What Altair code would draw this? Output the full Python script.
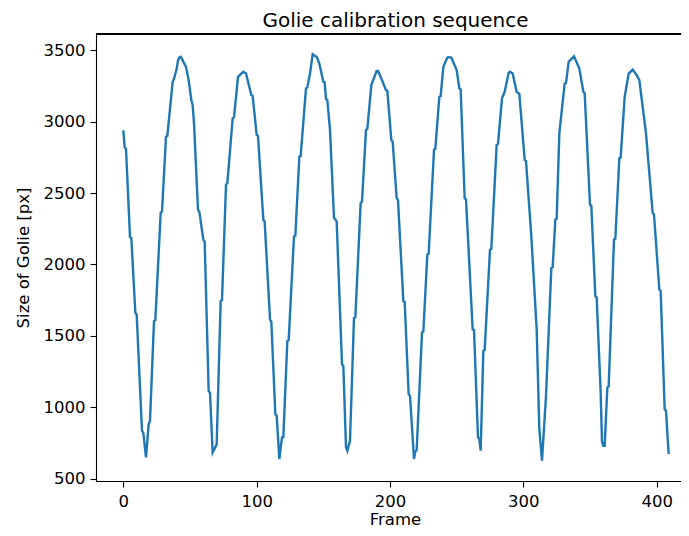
import altair as alt
import pandas as pd

frames = [0, 1, 2, 5, 6, 9, 10, 14, 15, 17, 19, 20, 23, 24, 28, 29, 32, 33, 37, 38,
          40, 41, 42, 43, 44, 45, 47, 49, 51, 52, 53, 56, 57, 60, 61, 64, 65, 67, 69, 70,
          73, 74, 77, 78, 82, 83, 86, 89, 90, 92, 96, 97, 100, 101, 105, 106, 110, 111, 114, 115,
          117, 119, 120, 123, 124, 128, 129, 132, 133, 137, 138, 140, 142, 143, 145, 147, 150, 151, 152, 153,
          155, 158, 159, 160, 164, 165, 167, 168, 170, 173, 174, 178, 179, 182, 183, 186, 190, 191, 194, 197,
          198, 201, 202, 205, 206, 210, 211, 214, 215, 218, 219, 220, 224, 225, 228, 229, 233, 234, 237, 238,
          240, 243, 244, 246, 250, 252, 253, 256, 257, 262, 263, 266, 267, 268, 270, 271, 275, 276, 280, 281,
          284, 286, 289, 290, 292, 295, 296, 297, 301, 302, 306, 310, 312, 314, 317, 321, 322, 324, 325, 327,
          331, 332, 334, 338, 342, 345, 346, 350, 351, 354, 355, 358, 359, 360, 361, 363, 364, 368, 369, 372,
          373, 376, 379, 382, 385, 387, 392, 397, 398, 402, 403, 406, 407, 409]

sizes = [2940, 2820, 2810, 2192, 2185, 1661, 1650, 835, 820, 648, 880, 905, 1603, 1610, 2360, 2370, 2895, 2900, 3279, 3300,
         3370, 3430, 3450, 3454, 3440, 3420, 3384, 3291, 3150, 3116, 2990, 2383, 2370, 2173, 2160, 1114, 1100, 683, 720, 740,
         1743, 1750, 2557, 2570, 3023, 3030, 3314, 3342, 3349, 3337, 3186, 3180, 2907, 2900, 2313, 2300, 1615, 1600, 951, 940,
         637, 788, 790, 1463, 1470, 2197, 2200, 2755, 2760, 3233, 3240, 3337, 3472, 3465, 3454, 3407, 3279, 3275, 3160, 3151,
         2942, 2325, 2315, 2301, 1300, 1289, 720, 695, 765, 1626, 1630, 2429, 2440, 2942, 2950, 3256, 3356, 3356, 3291, 3221,
         3215, 2872, 2860, 2464, 2450, 1743, 1740, 1091, 1080, 637, 690, 700, 1522, 1530, 2069, 2075, 2802, 2810, 3174, 3180,
         3384, 3449, 3452, 3449, 3361, 3233, 3225, 2464, 2455, 1545, 1540, 788, 780, 695, 1394, 1400, 2104, 2110, 2837, 2845,
         3163, 3209, 3342, 3349, 3337, 3209, 3200, 3195, 2732, 2725, 2197, 1545, 846, 625, 1079, 1975, 1980, 2313, 2320, 2918,
         3268, 3270, 3419, 3458, 3372, 3209, 3200, 2418, 2410, 1778, 1770, 1102, 760, 730, 730, 1137, 1145, 2173, 2180, 2744,
         2750, 3174, 3337, 3365, 3326, 3291, 2918, 2360, 2350, 1824, 1815, 986, 975, 672]

x_ticks = [0, 100, 200, 300, 400]
y_ticks = [500, 1000, 1500, 2000, 2500, 3000, 3500]
chart_title = "Golie calibration sequence"

df = pd.DataFrame({"Frame": frames, "Size": sizes})

FONT = "DejaVu Sans"
W, H = 585, 447

line = alt.Chart(df).mark_line(color="#1f77b4", strokeWidth=2.4, clip=True).encode(
    x=alt.X("Frame:Q",
            scale=alt.Scale(domain=[-20.5, 418.25], nice=False, zero=False),
            axis=alt.Axis(values=x_ticks, format="d", grid=False, tickSize=6, tickWidth=1.1, tickColor="black",
                          domainColor="black", domainWidth=1.1, labelFontSize=16.5, labelFont=FONT,
                          labelColor="black", labelPadding=6, title="Frame", titleFont=FONT,
                          titleFontSize=16.5, titleFontWeight="normal", titleColor="black",
                          titleX=299, titleY=43, titleBaseline="alphabetic", titleAlign="center")),
    y=alt.Y("Size:Q",
            scale=alt.Scale(domain=[483, 3614], nice=False, zero=False),
            axis=alt.Axis(values=y_ticks, format="d", grid=False, tickSize=6, tickWidth=1.1, tickColor="black",
                          domainColor="black", domainWidth=1.1, labelFontSize=16.5, labelFont=FONT,
                          labelColor="black", labelPadding=5, title="Size of Golie [px]", titleFont=FONT,
                          titleFontSize=16.5, titleFontWeight="normal", titleColor="black",
                          titleX=-68, titleY=223.5, titleAngle=270, titleBaseline="alphabetic",
                          titleAlign="center")),
)

top_spine = alt.Chart(df).mark_rule(color="black", strokeWidth=1.1).encode(
    x=alt.value(0), x2=alt.value(W), y=alt.value(0)
)

title_text = alt.Chart(pd.DataFrame({"t": [chart_title]})).mark_text(
    font=FONT, fontSize=20, color="black", align="center", baseline="alphabetic"
).encode(text="t:N", x=alt.value(299.5), y=alt.value(-7))

chart = alt.layer(line, top_spine, title_text).properties(
    width=W, height=H,
    autosize=alt.AutoSizeParams(type="none"),
    padding={"left": 88, "top": 26, "right": 0, "bottom": 47},
).configure_view(strokeWidth=0)

chart.save("out.html", embed_options={"renderer": "svg", "actions": False})
